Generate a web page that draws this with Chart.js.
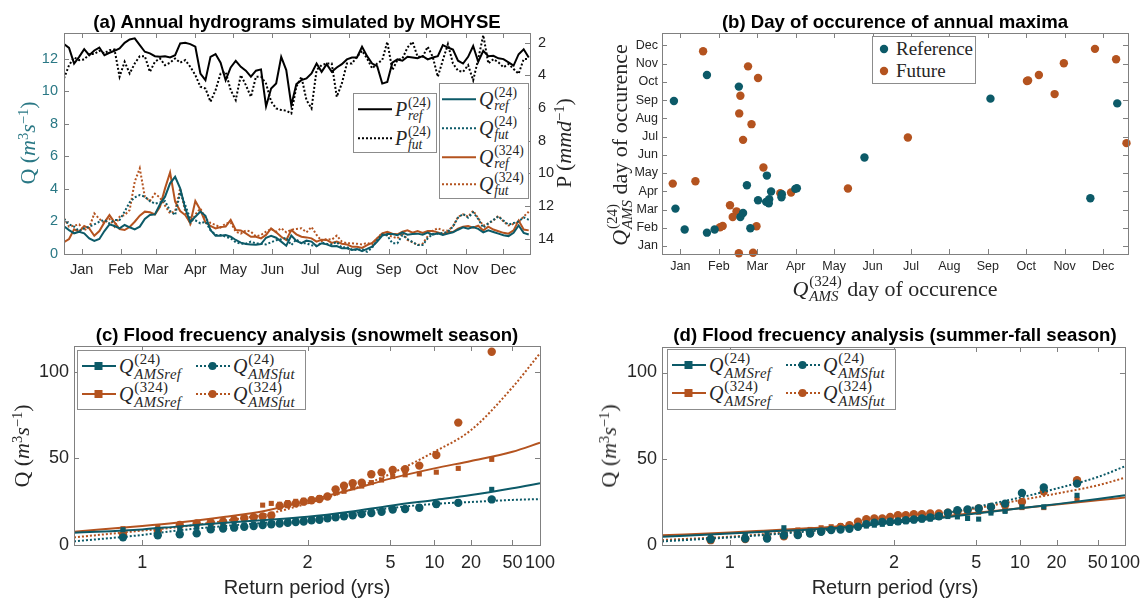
<!DOCTYPE html>
<html>
<head>
<meta charset="utf-8">
<script src="https://cdn.jsdelivr.net/npm/chart.js@4.4.1/dist/chart.umd.min.js"></script>
<style>
  html, body { margin: 0; padding: 0; background: #fff; }
  #fig { position: relative; width: 1147px; height: 600px; overflow: hidden; background: #fff; }
  #fig canvas { position: absolute; }
  .ttl { position: absolute; font-family: "Liberation Sans", Arial, sans-serif; font-weight: bold;
         font-size: 18.6px; line-height: 22px; color: #000; white-space: nowrap; transform: translateX(-50%); }
  .ax { position: absolute; font-family: "Liberation Serif", "Times New Roman", serif; white-space: nowrap;
        line-height: 1; transform: translate(-50%, -50%); color: #262626; }
  .rot { transform: translate(-50%, -50%) rotate(-90deg); }
  .sans { font-family: "Liberation Sans", Arial, sans-serif; }
  .leg { position: absolute; border: 1px solid #8c8c8c; background: #fff; box-sizing: border-box; }
  .row { position: absolute; display: flex; align-items: center; white-space: nowrap;
         font-family: "Liberation Serif", "Times New Roman", serif; color: #262626; }
  .mq { display: inline-flex; align-items: center; }
  .ms { display: inline-flex; flex-direction: column; font-size: 0.68em; line-height: 0.98; margin-left: 0.06em; }
  .ms.wide { font-size: 0.74em; letter-spacing: 0.4px; }
  .ms i, .mq > i { font-style: italic; }
  sup.p { font-size: 0.66em; position: relative; top: -0.1em; vertical-align: top; }
</style>
</head>
<body>
<div id="fig">
  <canvas id="cA" width="575" height="300" style="left:0;top:0"></canvas>
  <canvas id="cB" width="572" height="300" style="left:575px;top:0"></canvas>
  <canvas id="cC" width="575" height="300" style="left:0;top:300px"></canvas>
  <canvas id="cD" width="572" height="300" style="left:575px;top:300px"></canvas>

  <div class="ttl" style="left:297px;top:11px">(a) Annual hydrograms simulated by MOHYSE</div>
  <div class="ttl" style="left:895px;top:11px">(b) Day of occurence of annual maxima</div>
  <div class="ttl" style="left:307px;top:324px">(c) Flood frecuency analysis (snowmelt season)</div>
  <div class="ttl" style="left:895px;top:324px">(d) Flood frecuency analysis (summer-fall season)</div>

  <div class="ax rot" style="left:28px;top:143px;font-size:22px;color:#2a7885">Q (<i>m</i><sup class="p">3</sup><i>s</i><sup class="p">&minus;1</sup>)</div>
  <div class="ax rot" style="left:564px;top:143px;font-size:22px">P (<i>mmd</i><sup class="p">&minus;1</sup>)</div>
  <div class="ax rot" id="bY" style="left:620px;top:145px;font-size:22px"></div>
  <div class="ax" id="bX" style="left:895px;top:289px;font-size:22px"></div>
  <div class="ax rot" style="left:22px;top:446px;font-size:22px">Q (<i>m</i><sup class="p">3</sup><i>s</i><sup class="p">&minus;1</sup>)</div>
  <div class="ax rot" style="left:609px;top:446px;font-size:22px">Q (<i>m</i><sup class="p">3</sup><i>s</i><sup class="p">&minus;1</sup>)</div>
  <div class="ax sans" style="left:307px;top:587px;font-size:20px">Return period (yrs)</div>
  <div class="ax sans" style="left:895px;top:587px;font-size:20px">Return period (yrs)</div>

  <div class="leg" id="legP" style="left:353px;top:93px;width:84px;height:60px"></div>
  <div class="leg" id="legQ" style="left:439px;top:83px;width:90px;height:116px"></div>
  <div class="leg" id="legB" style="left:872px;top:36px;width:104px;height:48px"></div>
  <div class="leg" id="legC" style="left:77px;top:350px;width:229px;height:60px"></div>
  <div class="leg" id="legD" style="left:667px;top:349px;width:229px;height:61px"></div>
</div>

<script>
// ---------------- data ----------------
const MONTHS = ['Jan','Feb','Mar','Apr','May','Jun','Jul','Aug','Sep','Oct','Nov','Dec'];
const MONTH_MID = [15, 46, 74, 105, 135, 166, 196, 227, 258, 288, 319, 349];

// day of year of each hydrogram sample
const DAYS = [1,5,9,13,17,21,25,29,33,37,41,45,49,53,57,61,65,69,73,77,81,85,89,93,97,101,105,109,113,117,
  121,125,129,133,137,141,145,149,153,157,161,165,169,173,177,181,185,189,193,197,201,205,209,213,217,221,225,229,233,237,
  241,245,249,253,257,261,265,269,273,277,281,285,289,293,297,301,305,309,313,317,321,325,329,333,337,341,345,349,353,357,
  361,365,369];

// precipitation, mm/d
const P_REF_24 = [2.08,2.31,3.27,2.86,2.39,2.76,2.47,2.29,2.76,2.61,2.49,2.35,2.00,1.80,1.73,2.14,2.55,2.65,2.82,2.86,
  2.82,2.90,2.76,2.04,2.00,2.08,2.24,3.88,4.29,2.86,2.69,3.22,4.29,3.51,3.10,3.47,3.71,4.08,3.71,3.63,
  5.90,4.80,4.49,2.86,3.67,5.82,4.53,4.29,4.18,3.88,3.27,3.78,3.31,3.78,3.51,3.31,3.02,2.90,2.90,2.24,
  2.82,3.27,3.43,4.50,4.40,3.22,3.02,3.10,2.86,2.90,2.94,2.82,3.02,2.90,2.82,2.14,2.29,2.41,3.10,3.27,
  2.86,2.20,3.16,2.49,2.82,2.80,2.95,3.00,3.20,3.40,2.70,2.40,2.90];
const P_FUT_24 = [4.18,3.37,2.90,3.06,3.02,2.69,2.69,2.49,2.65,2.45,2.41,4.08,3.16,3.88,3.27,2.82,2.82,3.78,3.16,2.96,
  3.37,3.22,2.96,3.22,3.06,3.47,3.98,4.69,4.80,5.61,4.90,3.88,3.78,4.90,5.51,3.98,4.59,5.31,4.08,4.08,
  4.50,5.60,6.02,6.12,6.16,6.33,4.69,4.08,5.51,6.02,3.67,3.37,3.27,3.27,5.31,4.49,3.27,3.27,2.86,2.49,
  2.96,3.57,3.27,3.06,1.94,3.67,3.06,2.96,2.29,1.94,2.86,2.86,2.24,2.86,4.08,3.06,2.08,3.27,3.71,3.78,
  3.37,4.30,3.00,1.53,3.27,3.00,3.20,3.50,3.30,3.60,3.90,3.00,3.00];

// discharge, m3/s
const Q_REF_24 = [1.70,1.47,1.27,1.37,1.27,0.96,0.80,0.92,1.41,1.82,1.72,1.57,1.78,1.64,1.51,1.68,2.15,2.39,2.43,3.05,
  3.52,4.34,4.74,4.03,2.80,1.94,2.29,2.60,2.35,1.47,1.12,1.12,1.17,1.06,0.86,0.70,0.61,0.59,0.57,0.61,
  1.00,1.12,1.00,0.76,0.51,1.13,0.80,0.66,0.82,0.76,0.47,0.66,0.59,0.47,0.49,0.35,0.35,0.25,0.31,0.18,
  0.31,0.45,0.76,1.13,1.23,1.23,1.15,1.33,1.19,1.23,1.25,1.19,1.31,1.19,1.27,1.17,1.25,1.33,1.49,1.64,
  1.56,1.66,1.54,1.33,1.45,1.35,1.25,1.15,1.10,1.30,1.75,1.30,1.20];
const Q_FUT_24 = [2.15,1.82,1.68,1.41,1.57,1.68,1.82,1.98,2.09,1.88,2.09,2.09,2.60,3.17,3.48,3.62,3.52,3.25,3.09,3.17,
  3.25,2.64,2.39,3.78,3.01,2.15,2.07,1.88,1.98,1.47,1.17,1.17,1.06,0.96,0.72,0.63,0.63,0.76,0.65,0.63,
  0.59,0.72,0.85,0.90,1.00,0.55,0.90,0.66,0.66,0.53,0.51,0.70,0.63,0.59,0.74,0.39,0.43,0.27,0.25,0.31,
  0.14,0.39,0.86,1.21,1.13,0.66,0.66,1.17,0.92,0.74,0.55,0.55,0.96,1.23,1.25,1.29,1.37,1.68,2.23,2.46,
  2.23,2.56,2.15,1.62,1.88,2.10,2.30,2.05,1.80,1.90,2.00,2.25,2.10];
const Q_REF_324 = [0.72,0.92,1.51,1.37,1.72,1.57,1.12,1.41,1.94,2.39,1.94,1.53,1.47,1.66,1.98,2.35,2.60,2.56,2.43,2.90,
  4.03,5.01,3.21,2.64,2.39,1.90,3.25,2.70,1.94,1.72,1.57,1.66,1.68,2.09,1.47,1.45,1.27,1.06,1.06,0.96,
  1.17,1.57,1.33,1.06,0.86,1.47,1.21,1.06,1.02,0.96,0.76,0.88,0.86,0.68,0.76,0.63,0.59,0.45,0.45,0.37,
  0.55,0.68,0.96,1.27,1.37,1.25,1.21,1.37,1.45,1.31,1.41,1.29,1.41,1.41,1.33,1.21,1.37,1.35,1.56,1.68,
  1.72,1.62,1.74,1.45,1.68,1.50,1.40,1.30,1.25,1.45,2.05,1.50,1.45];
const Q_FUT_324 = [2.19,1.68,1.74,1.82,1.47,1.62,2.49,2.15,1.90,2.15,1.68,2.29,2.39,2.70,4.44,5.26,3.52,3.25,3.70,3.46,
  2.97,2.49,2.64,4.03,2.60,1.82,2.43,2.80,2.19,1.90,1.78,1.62,1.86,1.94,1.37,1.25,1.45,1.37,1.08,1.17,
  1.37,1.53,1.37,1.58,1.33,1.49,1.54,1.58,1.33,1.66,1.17,0.80,0.92,0.88,1.13,0.76,0.66,0.66,0.63,0.59,
  0.68,0.59,0.96,1.29,1.17,1.06,0.96,1.31,0.86,0.72,0.55,0.63,1.09,1.43,1.58,1.45,1.43,1.70,2.27,2.44,
  2.29,2.66,2.19,1.74,1.88,2.05,2.35,2.00,1.75,1.85,1.95,2.30,2.60];

// month of occurrence of annual maxima (x: 324 km2 basin, y: 24 km2 basin)
const REF_MONTH_324 = [0.83,0.87,1.11,1.69,1.69,1.89,2.52,2.56,2.63,2.73,2.82,3.02,3.25,3.23,3.31,3.30,3.36,3.63,3.64,3.99,4.03,5.79,9.07,11.67,12.37];
const REF_MONTH_24  = [8.95,3.05,1.90,10.38,1.73,1.90,9.74,2.59,2.81,4.33,1.97,3.51,4.86,3.42,3.56,3.34,3.99,3.67,3.84,4.13,4.17,5.85,9.08,3.62,8.82];
const FUT_MONTH_324 = [1.59,0.80,1.39,2.76,3.02,2.56,2.53,2.85,2.63,3.16,2.29,2.46,2.36,2.03,2.10,2.98,2.52,2.89,3.60,3.88,5.36,6.92,10.02,10.05,10.33,10.98,10.74,11.79,12.34,12.61];
const FUT_MONTH_24  = [11.68,4.42,4.55,10.85,10.21,9.24,8.27,7.68,6.82,5.30,3.23,2.90,2.59,2.03,2.10,2.08,0.60,0.63,3.89,3.93,4.15,6.95,10.05,10.08,10.38,11.02,9.33,11.81,11.24,6.64];

// empirical return periods of the 30 ranked annual maxima (yrs)
const RP = [1.033,1.069,1.107,1.148,1.192,1.240,1.292,1.348,1.409,1.476,1.550,1.632,1.722,1.824,1.938,
  2.067,2.214,2.385,2.583,2.818,3.100,3.444,3.875,4.429,5.167,6.200,7.750,10.333,15.500,31.000];
// return periods where the fitted distributions are evaluated
const FIT_T = [1.0107, 1.05, 1.1, 1.25, 1.5, 2, 3, 5, 10, 20, 50, 100];
const T_TICKS = [1.05, 2, 5, 10, 20, 50, 100];
const T_TICK_LABELS = ['1', '2', '5', '10', '20', '50', '100'];

// snowmelt season annual maxima (m3/s), ascending return period
const SM_REF_24  = [8.8,9.0,9.6,10.2,10.6,11.0,11.3,11.6,12.0,12.4,12.8,13.2,13.6,14.0,14.4,14.8,15.3,15.8,16.3,16.8,17.4,18.0,18.8,19.5,20.3,21.0,22.0,23.0,24.8,32.1];
const SM_FUT_24  = [4.4,5.6,6.2,6.7,9.0,9.5,10.0,10.5,11.0,11.5,12.0,12.4,12.8,13.2,13.6,14.2,14.6,15.4,16.0,16.6,17.2,17.8,18.4,19.2,20.5,20.8,21.5,23.6,24.3,26.3];
const SM_REF_324 = [9.4,10.5,12.0,13.0,13.5,14.5,15.0,15.5,16.0,23.0,24.0,23.5,24.5,25.2,25.8,26.5,27.3,28.0,30.0,31.0,33.0,34.0,36.0,37.5,39.5,40.5,41.0,42.0,44.2,49.4];
const SM_FUT_324 = [6.0,8.4,11.5,12.5,13.0,13.5,14.5,15.5,16.0,16.5,17.0,22.5,23.5,24.0,25.0,25.8,26.5,28.0,32.1,34.2,35.6,36.0,40.8,41.9,43.3,43.7,45.8,51.9,70.6,111.5];
const SM_FIT_REF_24  = [7.1,9.0,10.6,12.9,14.4,16.3,19.2,22.7,26.0,28.8,32.7,35.6];
const SM_FIT_FUT_24  = [2.1,5.8,8.3,11.0,12.9,15.4,18.3,21.3,23.7,24.8,26.0,26.5];
const SM_FIT_REF_324 = [7.7,11.0,12.9,16.3,19.8,25.6,31.7,38.3,44.2,48.5,53.8,59.0];
const SM_FIT_FUT_324 = [4.4,8.3,10.2,14.0,17.7,24.0,31.7,41.0,53.8,66.3,91.0,110.6];

// summer-fall season annual maxima (m3/s), ascending return period
const SF_REF_24  = [3.8,5.4,6.0,10.0,7.5,8.0,8.5,9.0,9.5,10.0,10.5,11.0,11.5,12.0,12.5,13.0,13.5,14.0,14.5,15.0,16.0,16.5,16.3,15.4,15.0,18.5,19.5,22.1,22.1,28.8];
const SF_FUT_24  = [3.3,3.7,3.8,5.6,5.8,6.7,7.7,8.7,9.0,9.4,10.6,12.1,12.9,13.3,13.5,13.7,14.4,14.8,15.4,16.0,16.7,18.7,20.2,20.6,21.2,22.1,24.0,30.2,33.3,35.6];
const SF_REF_324 = [5.2,6.0,7.0,8.0,8.7,9.0,10.0,10.6,11.2,11.7,12.5,13.0,13.5,14.0,14.5,15.0,15.5,16.0,16.5,17.0,17.3,17.7,18.0,18.5,19.0,19.5,20.0,21.7,21.7,26.5];
const SF_FUT_324 = [2.8,3.5,4.2,5.0,6.0,7.0,8.0,9.0,10.5,11.5,13.5,15.0,15.4,15.4,16.3,17.3,17.3,17.9,17.9,18.3,18.3,18.7,19.2,20.2,21.2,22.1,23.1,25.0,31.0,37.5];
const SF_FIT_REF_24  = [4.8,6.7,7.7,9.0,10.6,12.9,15.4,18.3,21.3,23.7,26.7,28.8];
const SF_FIT_FUT_24  = [2.1,4.4,5.8,8.1,10.2,13.5,17.3,22.1,27.5,32.7,39.4,45.6];
const SF_FIT_REF_324 = [5.6,7.3,8.3,9.8,11.3,13.5,16.0,18.7,21.3,23.5,26.0,27.5];
const SF_FIT_FUT_324 = [2.9,4.8,6.3,8.7,11.0,14.0,17.5,21.3,26.0,29.8,34.6,39.0];

// ---------------- styling ----------------
const SANS = '"Liberation Sans", Arial, Helvetica, sans-serif';
const TEAL = '#0c5a68';
const RUST = '#b4531f';
const INK = '#262626';
const FRAME = '#808080';
const DOT = [2, 2];

Chart.defaults.animation = false;
Chart.defaults.responsive = false;
Chart.defaults.devicePixelRatio = 1;
Chart.defaults.plugins.legend.display = false;
Chart.defaults.plugins.tooltip.enabled = false;

// Gumbel probability paper: position of a return period on the x axis
const gp = T => Math.log(3 - Math.log(-Math.log(1 - 1 / T)));

// box around the plot area with inward tick marks
const framePlugin = {
  id: 'frame',
  afterDatasetsDraw(chart, args, opts) {
    const { ctx, chartArea: a } = chart;
    const len = opts.len || 5;
    ctx.save();
    ctx.strokeStyle = FRAME;
    ctx.lineWidth = 1;
    ctx.beginPath();
    (opts.marks || []).forEach(spec => {
      const sc = chart.scales[spec.axis];
      sc.ticks.forEach(t => {
        const p = Math.round(sc.getPixelForValue(t.value)) + 0.5;
        spec.sides.forEach(side => {
          if (side === 'bottom') { ctx.moveTo(p, a.bottom); ctx.lineTo(p, a.bottom - len); }
          if (side === 'top') { ctx.moveTo(p, a.top); ctx.lineTo(p, a.top + len); }
          if (side === 'left') { ctx.moveTo(a.left, p); ctx.lineTo(a.left + len, p); }
          if (side === 'right') { ctx.moveTo(a.right, p); ctx.lineTo(a.right - len, p); }
        });
      });
    });
    ctx.stroke();
    ctx.strokeRect(Math.round(a.left) + 0.5, Math.round(a.top) + 0.5,
                   Math.round(a.right - a.left), Math.round(a.bottom - a.top));
    ctx.restore();
  }
};

function axis(o) {
  return {
    type: 'linear',
    position: o.position,
    min: o.min, max: o.max,
    reverse: !!o.reverse,
    grid: { display: false, drawTicks: false, tickLength: 0 },
    border: { display: false },
    afterBuildTicks: s => { s.ticks = o.ticks.map(v => ({ value: v })); },
    afterFit: s => { if (o.width != null) s.width = o.width; if (o.height != null) s.height = o.height; },
    ticks: {
      autoSkip: false, maxRotation: 0, minRotation: 0,
      padding: o.padding, color: o.color || INK,
      font: { family: SANS, size: o.size },
      callback: o.labels ? ((v, i) => o.labels[i]) : (v => String(v))
    }
  };
}

// ---------------- (a) hydrograms ----------------
function series(vals, color, dotted, yAxisID) {
  return {
    data: DAYS.map((d, i) => ({ x: d, y: vals[i] })),
    yAxisID, showLine: true, borderColor: color, borderWidth: 2,
    borderDash: dotted ? DOT : [], pointRadius: 0, tension: 0, fill: false
  };
}

new Chart(document.getElementById('cA'), {
  type: 'scatter',
  data: {
    datasets: [
      series(P_REF_24, '#000', false, 'yP'),
      series(P_FUT_24, '#000', true, 'yP'),
      series(Q_REF_24, TEAL, false, 'yQ'),
      series(Q_FUT_24, TEAL, true, 'yQ'),
      series(Q_REF_324, RUST, false, 'yQ'),
      series(Q_FUT_324, RUST, true, 'yQ')
    ]
  },
  options: {
    layout: { padding: { top: 33, left: 0, right: 0, bottom: 0 } },
    scales: {
      x: axis({ position: 'bottom', min: 1, max: 370, ticks: MONTH_MID, labels: MONTHS, height: 46, padding: 7, size: 14.5 }),
      yQ: axis({ position: 'left', min: 0, max: 13.57, ticks: [0, 2, 4, 6, 8, 10, 12], width: 64, padding: 6, size: 14.5, color: '#2a7885' }),
      yP: axis({ position: 'right', min: 1.4, max: 14.94, reverse: true, ticks: [2, 4, 6, 8, 10, 12, 14], width: 45, padding: 8, size: 14.5 })
    },
    plugins: {
      frame: { marks: [
        { axis: 'x', sides: ['bottom', 'top'] },
        { axis: 'yQ', sides: ['left'] },
        { axis: 'yP', sides: ['right'] }
      ] }
    }
  },
  plugins: [framePlugin]
});

// ---------------- (b) day of occurrence ----------------
const MONTH_NUM = [1, 2, 3, 4, 5, 6, 7, 8, 9, 10, 11, 12];
new Chart(document.getElementById('cB'), {
  type: 'scatter',
  data: {
    datasets: [
      { data: REF_MONTH_324.map((x, i) => ({ x, y: REF_MONTH_24[i] })), backgroundColor: TEAL, borderColor: TEAL,
        pointRadius: 4.2, pointBorderWidth: 0, clip: false },
      { data: FUT_MONTH_324.map((x, i) => ({ x, y: FUT_MONTH_24[i] })), backgroundColor: RUST, borderColor: RUST,
        pointRadius: 4.2, pointBorderWidth: 0, clip: false }
    ]
  },
  options: {
    layout: { padding: { top: 33, left: 0, right: 19, bottom: 0 } },
    scales: {
      x: axis({ position: 'bottom', min: 0.52, max: 12.65, ticks: MONTH_NUM, labels: MONTHS, height: 46, padding: 5, size: 12.5 }),
      y: axis({ position: 'left', min: 0.56, max: 12.68, ticks: MONTH_NUM, labels: MONTHS, width: 87, padding: 4, size: 12.5 })
    },
    plugins: {
      frame: { marks: [
        { axis: 'x', sides: ['bottom', 'top'] },
        { axis: 'y', sides: ['left', 'right'] }
      ] }
    }
  },
  plugins: [framePlugin]
});

// ---------------- (c), (d) flood frequency ----------------
function pts(vals, color, style) {
  return {
    data: RP.map((T, i) => ({ x: gp(T), y: vals[i] })),
    backgroundColor: color, borderColor: color, pointStyle: style,
    pointRadius: style === 'rect' ? 3.6 : 4.2, pointBorderWidth: 0, showLine: false
  };
}
function fit(vals, color, dotted) {
  return {
    data: FIT_T.map((T, i) => ({ x: gp(T), y: vals[i] })),
    borderColor: color, borderWidth: 2, borderDash: dotted ? DOT : [],
    showLine: true, pointRadius: 0, cubicInterpolationMode: 'monotone', fill: false
  };
}
function ffa(id, d, rightPad, topPad) {
  new Chart(document.getElementById(id), {
    type: 'scatter',
    data: {
      datasets: [
        fit(d.fitRef24, TEAL, false), fit(d.fitFut24, TEAL, true),
        pts(d.ref24, TEAL, 'rect'), pts(d.fut24, TEAL, 'circle'),
        fit(d.fitRef324, RUST, false), fit(d.fitFut324, RUST, true),
        pts(d.ref324, RUST, 'rect'), pts(d.fut324, RUST, 'circle')
      ]
    },
    options: {
      layout: { padding: { top: topPad, left: 0, right: rightPad, bottom: 0 } },
      scales: {
        x: axis({ position: 'bottom', min: gp(1.0107), max: gp(100), ticks: T_TICKS.map(gp), labels: T_TICK_LABELS,
                  height: 55, padding: 7, size: 18 }),
        y: axis({ position: 'left', min: 0, max: 114.8, ticks: [0, 50, 100], width: d.axisW, padding: 5, size: 18 })
      },
      plugins: {
        frame: { marks: [
          { axis: 'x', sides: ['bottom', 'top'] },
          { axis: 'y', sides: ['left', 'right'] }
        ] }
      }
    },
    plugins: [framePlugin]
  });
}
ffa('cC', { ref24: SM_REF_24, fut24: SM_FUT_24, ref324: SM_REF_324, fut324: SM_FUT_324,
            fitRef24: SM_FIT_REF_24, fitFut24: SM_FIT_FUT_24, fitRef324: SM_FIT_REF_324, fitFut324: SM_FIT_FUT_324,
            axisW: 74 }, 35, 46);
ffa('cD', { ref24: SF_REF_24, fut24: SF_FUT_24, ref324: SF_REF_324, fut324: SF_FUT_324,
            fitRef24: SF_FIT_REF_24, fitFut24: SF_FIT_FUT_24, fitRef324: SF_FIT_REF_324, fitFut324: SF_FIT_FUT_324,
            axisW: 87 }, 19, 47);

// ---------------- legends and math labels ----------------
function mq(base, sup, sub, size, wide) {
  return `<span class="mq" style="font-size:${size}px"><i>${base}</i><span class="ms${wide ? ' wide' : ''}"><span>${sup}</span><span><i>${sub}</i></span></span></span>`;
}
function glyph(color, dotted, marker) {
  let m = '';
  if (marker === 'rect') m = `<rect x="12.5" y="3.5" width="8" height="8" fill="${color}"/>`;
  if (marker === 'circle') m = `<circle cx="16.5" cy="7.5" r="4" fill="${color}"/>`;
  return `<svg width="34" height="15" style="flex:none"><line x1="0" y1="7.5" x2="34" y2="7.5" stroke="${color}" stroke-width="2"${dotted ? ' stroke-dasharray="2 2"' : ''}/>${m}</svg>`;
}
function row(left, top, inner) {
  return `<div class="row" style="left:${left}px;top:${top}px;transform:translateY(-50%)">${inner}</div>`;
}
const GAP = '<span style="width:3px"></span>';

document.getElementById('legP').innerHTML =
  row(4, 15, glyph('#000', false) + GAP + mq('P', '(24)', 'ref', 20)) +
  row(4, 44, glyph('#000', true) + GAP + mq('P', '(24)', 'fut', 20));
document.getElementById('legQ').innerHTML =
  row(2, 15, glyph(TEAL, false) + GAP + mq('Q', '(24)', 'ref', 20)) +
  row(2, 44, glyph(TEAL, true) + GAP + mq('Q', '(24)', 'fut', 20)) +
  row(2, 73, glyph(RUST, false) + GAP + mq('Q', '(324)', 'ref', 20)) +
  row(2, 100, glyph(RUST, true) + GAP + mq('Q', '(324)', 'fut', 20));
document.getElementById('legB').innerHTML =
  row(6, 12, `<svg width="10" height="10"><circle cx="5" cy="5" r="4.2" fill="${TEAL}"/></svg><span style="width:7px"></span><span style="font-size:19px">Reference</span>`) +
  row(6, 34, `<svg width="10" height="10"><circle cx="5" cy="5" r="4.2" fill="${RUST}"/></svg><span style="width:7px"></span><span style="font-size:19px">Future</span>`);
function ffaLegend(id) {
  document.getElementById(id).innerHTML =
    row(4, 15, glyph(TEAL, false, 'rect') + GAP + mq('Q', '(24)', 'AMSref', 20, true)) +
    row(4, 43, glyph(RUST, false, 'rect') + GAP + mq('Q', '(324)', 'AMSref', 20, true)) +
    row(118, 15, glyph(TEAL, true, 'circle') + GAP + mq('Q', '(24)', 'AMSfut', 20, true)) +
    row(118, 43, glyph(RUST, true, 'circle') + GAP + mq('Q', '(324)', 'AMSfut', 20, true));
}
ffaLegend('legC');
ffaLegend('legD');

document.getElementById('bY').innerHTML = mq('Q', '(24)', 'AMS', 22) + '<span>&nbsp;day of occurence</span>';
document.getElementById('bX').innerHTML = mq('Q', '(324)', 'AMS', 22) + '<span>&nbsp;day of occurence</span>';
</script>
</body>
</html>
